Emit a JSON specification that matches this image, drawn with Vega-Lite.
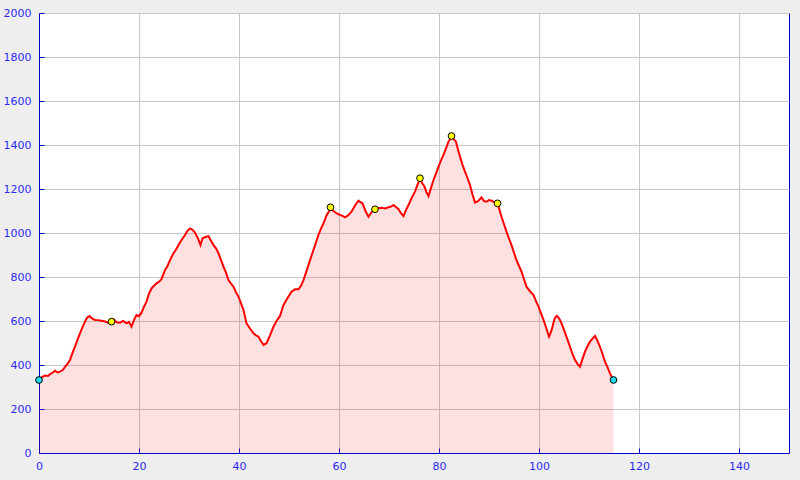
{
  "$schema": "https://vega.github.io/schema/vega-lite/v6.json",
  "width": 750,
  "height": 440,
  "autosize": {"type": "none"},
  "padding": {"left": 39, "top": 13, "right": 11, "bottom": 27},
  "background": "#eeeeee",
  "config": {
    "view": {"stroke": "#0000cc", "strokeWidth": 1, "fill": "#ffffff"},
    "axis": {
      "domainColor": "#0000cc",
      "tickColor": "#0000cc",
      "tickSize": -5,
      "labelColor": "#2a2aee",
      "labelFont": "DejaVu Sans",
      "labelFontSize": 11,
      "gridColor": "#c8c8c8",
      "gridWidth": 1,
      "labelFlush": false,
      "labelOverlap": false,
      "title": null,
      "format": "d"
    }
  },
  "datasets": {
    "profile": [
      {"km": 0, "elev": 332}, {"km": 0.6, "elev": 345}, {"km": 1.2, "elev": 352}, {"km": 1.8, "elev": 350},
      {"km": 2.2, "elev": 358}, {"km": 2.7, "elev": 365}, {"km": 3.2, "elev": 374}, {"km": 3.7, "elev": 366},
      {"km": 4.2, "elev": 370}, {"km": 4.8, "elev": 378}, {"km": 5.2, "elev": 392}, {"km": 5.7, "elev": 405},
      {"km": 6.2, "elev": 423}, {"km": 6.7, "elev": 455}, {"km": 7.2, "elev": 483}, {"km": 7.7, "elev": 515},
      {"km": 8.2, "elev": 544}, {"km": 8.7, "elev": 572}, {"km": 9.2, "elev": 597}, {"km": 9.6, "elev": 615},
      {"km": 10.1, "elev": 623}, {"km": 10.6, "elev": 612}, {"km": 11.2, "elev": 605}, {"km": 11.8, "elev": 604},
      {"km": 12.5, "elev": 601}, {"km": 13.2, "elev": 598}, {"km": 13.8, "elev": 592}, {"km": 14.5, "elev": 597},
      {"km": 15.0, "elev": 607}, {"km": 15.5, "elev": 594}, {"km": 16.2, "elev": 592}, {"km": 16.8, "elev": 600},
      {"km": 17.5, "elev": 589}, {"km": 18.0, "elev": 596}, {"km": 18.5, "elev": 574}, {"km": 19.0, "elev": 605},
      {"km": 19.5, "elev": 627}, {"km": 20.0, "elev": 622}, {"km": 20.5, "elev": 638}, {"km": 21.0, "elev": 665},
      {"km": 21.5, "elev": 688}, {"km": 22.0, "elev": 725}, {"km": 22.5, "elev": 748}, {"km": 23.0, "elev": 760},
      {"km": 23.5, "elev": 771}, {"km": 24.0, "elev": 778}, {"km": 24.5, "elev": 790}, {"km": 25.2, "elev": 832},
      {"km": 25.7, "elev": 850}, {"km": 26.2, "elev": 877}, {"km": 26.9, "elev": 908}, {"km": 27.4, "elev": 925},
      {"km": 27.9, "elev": 945}, {"km": 28.5, "elev": 968}, {"km": 29.2, "elev": 991}, {"km": 29.7, "elev": 1010},
      {"km": 30.2, "elev": 1021}, {"km": 30.7, "elev": 1015}, {"km": 31.2, "elev": 1002}, {"km": 31.8, "elev": 975},
      {"km": 32.3, "elev": 945}, {"km": 32.7, "elev": 976}, {"km": 33.3, "elev": 982}, {"km": 33.9, "elev": 986},
      {"km": 34.4, "elev": 965}, {"km": 34.9, "elev": 945}, {"km": 35.4, "elev": 930}, {"km": 35.9, "elev": 908},
      {"km": 36.4, "elev": 878}, {"km": 36.9, "elev": 847}, {"km": 37.4, "elev": 820}, {"km": 37.9, "elev": 786},
      {"km": 38.4, "elev": 770}, {"km": 38.9, "elev": 756}, {"km": 39.4, "elev": 730}, {"km": 39.9, "elev": 711},
      {"km": 40.4, "elev": 680}, {"km": 40.9, "elev": 650}, {"km": 41.5, "elev": 589}, {"km": 42.2, "elev": 566},
      {"km": 42.9, "elev": 544}, {"km": 43.4, "elev": 535}, {"km": 43.9, "elev": 529}, {"km": 44.4, "elev": 508},
      {"km": 44.9, "elev": 491}, {"km": 45.5, "elev": 499}, {"km": 46.2, "elev": 535}, {"km": 46.9, "elev": 574},
      {"km": 47.5, "elev": 600}, {"km": 48.2, "elev": 623}, {"km": 48.9, "elev": 673}, {"km": 49.7, "elev": 705},
      {"km": 50.5, "elev": 733}, {"km": 51.2, "elev": 744}, {"km": 51.9, "elev": 744}, {"km": 52.4, "elev": 760},
      {"km": 52.9, "elev": 786}, {"km": 53.4, "elev": 820}, {"km": 53.9, "elev": 855}, {"km": 54.4, "elev": 890},
      {"km": 54.9, "elev": 923}, {"km": 55.4, "elev": 958}, {"km": 55.9, "elev": 991}, {"km": 56.4, "elev": 1020},
      {"km": 56.9, "elev": 1044}, {"km": 57.5, "elev": 1080}, {"km": 58.3, "elev": 1110}, {"km": 58.9, "elev": 1100},
      {"km": 59.5, "elev": 1090}, {"km": 59.9, "elev": 1085}, {"km": 60.5, "elev": 1080}, {"km": 61.2, "elev": 1071},
      {"km": 61.8, "elev": 1080}, {"km": 62.5, "elev": 1097}, {"km": 63.2, "elev": 1125}, {"km": 63.9, "elev": 1147},
      {"km": 64.3, "elev": 1140}, {"km": 64.7, "elev": 1135}, {"km": 65.3, "elev": 1100}, {"km": 65.9, "elev": 1074},
      {"km": 66.5, "elev": 1095}, {"km": 67.2, "elev": 1108}, {"km": 67.8, "elev": 1113}, {"km": 68.5, "elev": 1115},
      {"km": 69.2, "elev": 1112}, {"km": 69.9, "elev": 1117}, {"km": 70.4, "elev": 1120}, {"km": 70.9, "elev": 1127},
      {"km": 71.4, "elev": 1118}, {"km": 71.9, "elev": 1108}, {"km": 72.4, "elev": 1090}, {"km": 72.9, "elev": 1077},
      {"km": 73.4, "elev": 1105}, {"km": 73.9, "elev": 1127}, {"km": 74.5, "elev": 1158}, {"km": 75.2, "elev": 1188},
      {"km": 75.7, "elev": 1220}, {"km": 76.2, "elev": 1245}, {"km": 76.7, "elev": 1225}, {"km": 77.1, "elev": 1211},
      {"km": 77.5, "elev": 1185}, {"km": 77.9, "elev": 1168}, {"km": 78.4, "elev": 1205}, {"km": 78.9, "elev": 1241},
      {"km": 79.4, "elev": 1270}, {"km": 79.9, "elev": 1302}, {"km": 80.4, "elev": 1330}, {"km": 80.9, "elev": 1355},
      {"km": 81.4, "elev": 1385}, {"km": 81.9, "elev": 1415}, {"km": 82.5, "elev": 1436}, {"km": 83.0, "elev": 1425},
      {"km": 83.4, "elev": 1415}, {"km": 83.8, "elev": 1380}, {"km": 84.2, "elev": 1347}, {"km": 84.7, "elev": 1310},
      {"km": 85.2, "elev": 1279}, {"km": 85.7, "elev": 1250}, {"km": 86.2, "elev": 1218}, {"km": 86.7, "elev": 1175},
      {"km": 87.2, "elev": 1138}, {"km": 87.8, "elev": 1145}, {"km": 88.5, "elev": 1162}, {"km": 89.0, "elev": 1145},
      {"km": 89.5, "elev": 1142}, {"km": 90.0, "elev": 1150}, {"km": 90.5, "elev": 1147}, {"km": 91.0, "elev": 1140},
      {"km": 91.7, "elev": 1135}, {"km": 92.1, "elev": 1105}, {"km": 92.5, "elev": 1074}, {"km": 93.0, "elev": 1040},
      {"km": 93.5, "elev": 1006}, {"km": 94.0, "elev": 975}, {"km": 94.5, "elev": 945}, {"km": 95.0, "elev": 910},
      {"km": 95.5, "elev": 877}, {"km": 96.0, "elev": 850}, {"km": 96.5, "elev": 824}, {"km": 97.0, "elev": 790},
      {"km": 97.5, "elev": 756}, {"km": 98.2, "elev": 735}, {"km": 98.9, "elev": 718}, {"km": 99.4, "elev": 690},
      {"km": 99.9, "elev": 665}, {"km": 100.4, "elev": 635}, {"km": 100.9, "elev": 605}, {"km": 101.5, "elev": 565},
      {"km": 102.0, "elev": 529}, {"km": 102.4, "elev": 550}, {"km": 102.7, "elev": 574}, {"km": 103.1, "elev": 610},
      {"km": 103.5, "elev": 623}, {"km": 103.8, "elev": 618}, {"km": 104.2, "elev": 605}, {"km": 104.7, "elev": 578},
      {"km": 105.2, "elev": 547}, {"km": 105.7, "elev": 515}, {"km": 106.2, "elev": 483}, {"km": 106.7, "elev": 450},
      {"km": 107.2, "elev": 423}, {"km": 107.7, "elev": 405}, {"km": 108.2, "elev": 392}, {"km": 108.7, "elev": 428},
      {"km": 109.2, "elev": 461}, {"km": 109.7, "elev": 485}, {"km": 110.2, "elev": 506}, {"km": 110.7, "elev": 520},
      {"km": 111.2, "elev": 532}, {"km": 111.7, "elev": 510}, {"km": 112.2, "elev": 483}, {"km": 112.7, "elev": 450},
      {"km": 113.2, "elev": 415}, {"km": 113.7, "elev": 390}, {"km": 114.2, "elev": 362}, {"km": 114.9, "elev": 332}
    ],
    "markers": [
      {"km": 0, "elev": 332, "kind": "end"},
      {"km": 14.5, "elev": 597, "kind": "summit"},
      {"km": 58.3, "elev": 1117, "kind": "summit"},
      {"km": 67.2, "elev": 1108, "kind": "summit"},
      {"km": 76.2, "elev": 1249, "kind": "summit"},
      {"km": 82.5, "elev": 1441, "kind": "summit"},
      {"km": 91.7, "elev": 1135, "kind": "summit"},
      {"km": 114.9, "elev": 332, "kind": "end"}
    ]
  },
  "encoding": {
    "x": {
      "field": "km", "type": "quantitative",
      "scale": {"domain": [0, 150], "nice": false, "zero": false},
      "axis": {"values": [0, 20, 40, 60, 80, 100, 120, 140], "labelPadding": 12}
    },
    "y": {
      "field": "elev", "type": "quantitative",
      "scale": {"domain": [0, 2000], "nice": false},
      "axis": {"values": [0, 200, 400, 600, 800, 1000, 1200, 1400, 1600, 1800, 2000], "labelPadding": 13}
    }
  },
  "layer": [
    {
      "data": {"name": "profile"},
      "mark": {"type": "area", "color": "#ff0000", "opacity": 0.12, "interpolate": "linear"}
    },
    {
      "data": {"name": "profile"},
      "mark": {"type": "line", "color": "#ff0000", "strokeWidth": 2, "interpolate": "linear"}
    },
    {
      "data": {"name": "markers"},
      "mark": {"type": "point", "filled": true, "size": 45, "stroke": "#000000", "strokeWidth": 1, "opacity": 1},
      "encoding": {
        "fill": {
          "field": "kind", "type": "nominal",
          "scale": {"domain": ["end", "summit"], "range": ["#22ddee", "#ffff00"]},
          "legend": null
        }
      }
    }
  ]
}
